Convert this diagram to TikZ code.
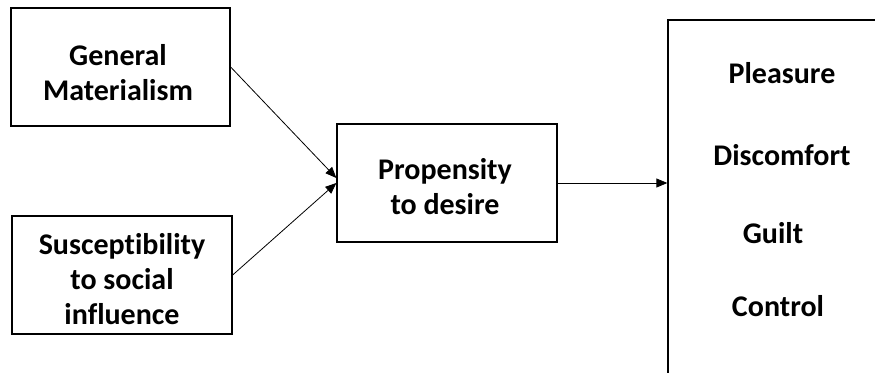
\documentclass[tikz,border=0pt]{standalone}
\usepackage{fontspec}
\setmainfont{Carlito}[Ligatures=NoCommon]
\usetikzlibrary{arrows.meta}
\begin{document}
\begin{tikzpicture}[x=1pt,y=-1pt,
  box/.style={draw,line width=1.3pt,inner sep=0pt},
  txt/.style={inner sep=0pt,align=center,font=\bfseries\fontsize{30}{35}\selectfont},
  lbl/.style={anchor=base,inner sep=0pt,font=\bfseries\fontsize{30}{35}\selectfont},
  conn/.style={line width=0.8pt,-{Triangle[length=11pt,width=9pt]}}]
\useasboundingbox (0,0) rectangle (875,372);
\clip (0,0) rectangle (875,372);
\node[box,minimum width=219pt,minimum height=118pt] (gm) at (120.5,67) {};
\node[txt] (gmt) at (118,73) {General\\Materialism};
\node[box,minimum width=220pt,minimum height=118pt] (ss) at (122,275) {};
\node[txt] (sst) at (122,279) {Susceptibility\\to social\\influence};
\node[box,minimum width=220pt,minimum height=118pt] (pd) at (447,183) {};
\node[txt] (pdt) at (445,187) {Propensity\\to desire};
\node[draw,line width=1.3pt,inner sep=0pt,minimum width=300pt,minimum height=400pt] (out) at (818,220) {};
\node[lbl] (p1) at (782,83) {Pleasure};
\node[lbl] (p2) at (782,165) {Discomfort};
\node[lbl] (p3) at (773,243) {Guilt};
\node[lbl] (p4) at (778,316) {Control};
\draw[conn] (gm.east) -- ([yshift=5pt]pd.west);
\draw[conn] (ss.east) -- (pd.west);
\draw[conn] (pd.east) -- (pd.east -| out.west);
\end{tikzpicture}
\end{document}
